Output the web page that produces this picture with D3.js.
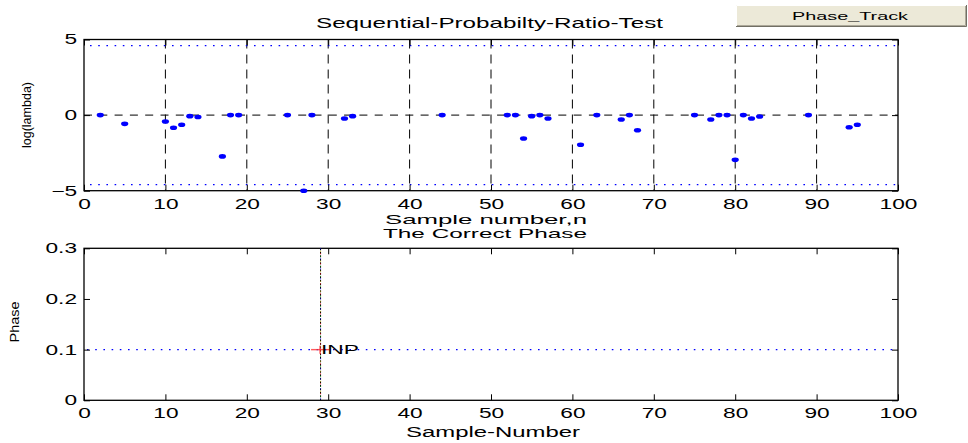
<!DOCTYPE html>
<html><head><meta charset="utf-8">
<script src="https://cdn.jsdelivr.net/npm/d3@7"></script>
<style>
html,body{margin:0;padding:0;background:#fff;}
svg{display:block;font-family:"Liberation Sans",Arial,Helvetica,sans-serif;}
</style></head><body>
<svg id="fig" width="968" height="443"></svg>
<script>
// Sequential probability ratio test: log-likelihood ratio per sample
const sampleIdx = [2,5,10,11,12,13,14,17,18,19,25,27,28,32,33,44,52,53,54,55,56,57,61,63,66,67,68,75,77,78,79,80,81,82,83,89,94,95];
const logLambda = [0,-0.58,-0.42,-0.84,-0.64,-0.07,-0.13,-2.73,0,0,0,-5,0,-0.22,-0.07,0,0,0,-1.55,-0.07,0,-0.22,-1.96,0,-0.29,0,-1.0,0,-0.29,0,0,-2.96,0,-0.22,-0.09,0,-0.8,-0.64];
const thresholds = [4.6, -4.6];
const sampleTicks = [0,10,20,30,40,50,60,70,80,90,100];
const llrTicks = [-5,0,5];
const phaseTicks = [0,0.1,0.2,0.3];
// detected phase
const phaseSample = [29];
const phaseValue = [0.1];
const phaseLabel = ["INP"];

const svg = d3.select("#fig");
const STRETCH = 1.62;

function widen(sel, k) {
  sel.each(function () {
    const w = this.getComputedTextLength();
    d3.select(this).attr("textLength", w * k).attr("lengthAdjust", "spacingAndGlyphs");
  });
}

function fixedText(x, y, str, size, len, anchor) {
  return svg.append("text")
    .attr("x", x).attr("y", y)
    .attr("text-anchor", anchor || "middle")
    .attr("font-size", size)
    .attr("fill", "#000")
    .attr("textLength", len).attr("lengthAdjust", "spacingAndGlyphs")
    .text(str);
}

function drawAxes(g, x, y, yTicks, yFormat) {
  const [x0, x1] = x.range();
  const [y0, y1] = y.range();
  const bottom = g.append("g").attr("transform", `translate(0,${y0})`)
    .call(d3.axisBottom(x).tickValues(sampleTicks).tickSize(-6).tickPadding(8).tickFormat(d3.format("d")));
  g.append("g").attr("transform", `translate(0,${y1})`)
    .call(d3.axisTop(x).tickValues(sampleTicks).tickSize(-6).tickFormat(""));
  const left = g.append("g").attr("transform", `translate(${x0},0)`)
    .call(d3.axisLeft(y).tickValues(yTicks).tickSize(-6).tickPadding(7).tickFormat(yFormat));
  g.append("g").attr("transform", `translate(${x1},0)`)
    .call(d3.axisRight(y).tickValues(yTicks).tickSize(-6).tickFormat(""));
  g.selectAll(".domain").remove();
  g.selectAll(".tick line").attr("stroke", "#000").attr("stroke-width", 1);
  g.selectAll(".tick text").attr("font-size", 14).attr("font-family", null).attr("fill", "#000");
  widen(bottom.selectAll(".tick text"), STRETCH);
  widen(left.selectAll(".tick text"), STRETCH);
  g.append("rect")
    .attr("x", x0).attr("y", y1)
    .attr("width", x1 - x0).attr("height", y0 - y1)
    .attr("fill", "none").attr("stroke", "#000").attr("stroke-width", 1.3);
}

// ---------- upper panel: log(lambda) ----------
const xTop = d3.scaleLinear().domain([0, 100]).range([84, 898]);
const yTop = d3.scaleLinear().domain([-5, 5]).range([190.7, 39.5]);
const gTop = svg.append("g");

gTop.append("defs").append("clipPath").attr("id", "clipTop")
  .append("rect").attr("x", 84).attr("y", 39.5 - 3).attr("width", 814).attr("height", 151.2 + 6);

// dashed grid
gTop.append("g").selectAll("line").data(sampleTicks.slice(1, -1)).join("line")
  .attr("x1", d => xTop(d)).attr("x2", d => xTop(d))
  .attr("y1", yTop(5)).attr("y2", yTop(-5))
  .attr("stroke", "#000").attr("stroke-width", 1).attr("stroke-dasharray", "9,6");
gTop.append("g").selectAll("line").data(llrTicks.slice(1, -1)).join("line")
  .attr("x1", xTop(0)).attr("x2", xTop(100))
  .attr("y1", d => yTop(d)).attr("y2", d => yTop(d))
  .attr("stroke", "#000").attr("stroke-width", 1).attr("stroke-dasharray", "8,7.3");

// decision thresholds
gTop.append("g").selectAll("line").data(thresholds).join("line")
  .attr("x1", xTop(0) + 6).attr("x2", xTop(100))
  .attr("y1", d => yTop(d)).attr("y2", d => yTop(d))
  .attr("stroke", "#0000ff").attr("stroke-width", 1.2).attr("stroke-dasharray", "1.6,6.6");

drawAxes(gTop, xTop, yTop, llrTicks, d3.format("d"));

// samples
gTop.append("g").attr("clip-path", "url(#clipTop)")
  .selectAll("ellipse").data(sampleIdx.map((s, i) => [s, logLambda[i]])).join("ellipse")
  .attr("cx", d => xTop(d[0])).attr("cy", d => yTop(d[1]))
  .attr("rx", 3.6).attr("ry", 2.3).attr("fill", "#0000ff");

// ---------- lower panel: phase ----------
const xBot = d3.scaleLinear().domain([0, 100]).range([84, 898]);
const yBot = d3.scaleLinear().domain([0, 0.3]).range([400.3, 248.3]);
const gBot = svg.append("g");

gBot.append("g").selectAll("line").data(phaseValue).join("line")
  .attr("x1", xBot(0) + 3).attr("x2", xBot(100))
  .attr("y1", d => yBot(d)).attr("y2", d => yBot(d))
  .attr("stroke", "#0000ff").attr("stroke-width", 1.2).attr("stroke-dasharray", "1.6,6.6");

drawAxes(gBot, xBot, yBot, phaseTicks, d => d === 0 ? "0" : d3.format(".1f")(d));

// marker line at the detected sample: dark dotted line with a few coloured dots
const xMark = xBot(phaseSample[0]) + 0.5;
gBot.append("line")
  .attr("x1", xMark).attr("x2", xMark).attr("y1", yBot(0.3)).attr("y2", yBot(0))
  .attr("stroke", "#000").attr("stroke-width", 1).attr("stroke-dasharray", "2,1.5");
const markColors = [["#0000ff", 0], ["#00a000", 2.5], ["#ff0000", 5], ["#c8b400", 7.5]];
gBot.append("g").selectAll("line").data(markColors).join("line")
  .attr("x1", xMark).attr("x2", xMark)
  .attr("y1", yBot(0.3)).attr("y2", yBot(0))
  .attr("stroke", d => d[0]).attr("stroke-width", 1).attr("stroke-opacity", 0.7)
  .attr("stroke-dasharray", "1,9").attr("stroke-dashoffset", d => d[1]);

// red plus marker
const plus = gBot.append("g").selectAll("g").data(phaseSample.map((s, i) => [s, phaseValue[i]])).join("g")
  .attr("transform", d => `translate(${xBot(d[0])},${yBot(d[1])})`);
plus.append("line").attr("x1", -9).attr("x2", 9).attr("y1", 0).attr("y2", 0)
  .attr("stroke", "#ff3030").attr("stroke-opacity", 0.8).attr("stroke-width", 1.4);
plus.append("line").attr("x1", 0).attr("x2", 0).attr("y1", -4).attr("y2", 4)
  .attr("stroke", "#ff3030").attr("stroke-opacity", 0.8).attr("stroke-width", 1.4);

// label at the detected phase
gBot.append("g").selectAll("text").data(phaseSample.map((s, i) => [s, phaseValue[i], phaseLabel[i]])).join("text")
  .attr("x", d => xBot(d[0]) + 1).attr("y", d => yBot(d[1]))
  .attr("dy", "0.33em").attr("font-size", 13).attr("fill", "#000")
  .attr("textLength", 38).attr("lengthAdjust", "spacingAndGlyphs")
  .text(d => d[2]);

// ---------- titles and axis labels ----------
fixedText(489.5, 28, "Sequential-Probabilty-Ratio-Test", 15, 347);
fixedText(486, 223.5, "Sample number,n", 13, 202);
fixedText(485, 238, "The Correct Phase", 13, 204);
fixedText(493, 437, "Sample-Number", 14, 174);

svg.append("text")
  .attr("transform", "translate(31,115) rotate(-90)")
  .attr("text-anchor", "middle").attr("font-size", 13)
  .attr("textLength", 66).attr("lengthAdjust", "spacingAndGlyphs")
  .text("log(lambda)");
svg.append("text")
  .attr("transform", "translate(18.5,322) rotate(-90)")
  .attr("text-anchor", "middle").attr("font-size", 13)
  .attr("textLength", 41).attr("lengthAdjust", "spacingAndGlyphs")
  .text("Phase");

// ---------- push button ----------
const btn = svg.append("g").attr("transform", "translate(736,5)");
const bw = 231, bh = 22;
btn.append("rect").attr("width", bw).attr("height", bh).attr("fill", "#ece9d8");
btn.append("path").attr("d", `M0.5,${bh - 0.5}V0.5H${bw - 0.5}`).attr("fill", "none").attr("stroke", "#ffffff");
btn.append("path").attr("d", `M1,${bh - 1.5}H${bw - 1.5}V1`).attr("fill", "none").attr("stroke", "#aca899");
btn.append("path").attr("d", `M0,${bh - 0.5}H${bw - 0.5}V0`).attr("fill", "none").attr("stroke", "#716f64");
btn.append("text").attr("x", 114).attr("y", 14.5)
  .attr("text-anchor", "middle").attr("font-size", 11).attr("fill", "#000")
  .attr("textLength", 116).attr("lengthAdjust", "spacingAndGlyphs")
  .text("Phase_Track");
</script>
</body></html>
